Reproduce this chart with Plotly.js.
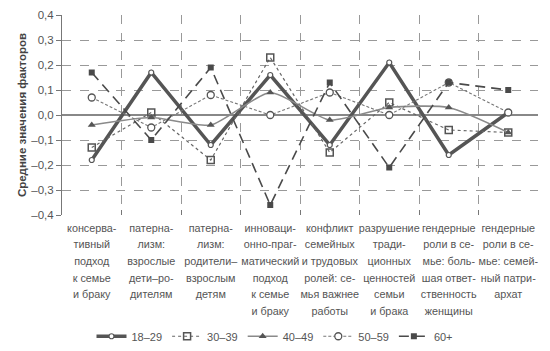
<!DOCTYPE html>
<html><head><meta charset="utf-8">
<script src="https://cdn.plot.ly/plotly-3.0.1.min.js"></script>
<style>html,body{margin:0;padding:0;background:#fff}#chart{width:550px;height:351px}</style>
</head><body><div id="chart"></div>
<script>
const categories = [
  "консерва-<br>тивный<br>подход<br>к семье<br>и браку",
  "патерна-<br>лизм:<br>взрослые<br>дети–ро-<br>дителям",
  "патерна-<br>лизм:<br>родители–<br>взрослым<br>детям",
  "инноваци-<br>онно-праг-<br>матический<br>подход<br>к семье<br>и браку",
  "конфликт<br>семейных<br>и трудовых<br>ролей: се-<br>мья важнее<br>работы",
  "разрушение<br>тради-<br>ционных<br>ценностей<br>семьи<br>и брака",
  "гендерные<br>роли в се-<br>мье: боль-<br>шая ответ-<br>ственность<br>женщины",
  "гендерные<br>роли в се-<br>мье: семей-<br>ный патри-<br>архат"
];
const s18_29 = [-0.18, 0.17, -0.12, 0.16, -0.12, 0.21, -0.16, 0.01];
const s30_39 = [-0.13, 0.01, -0.18, 0.23, -0.15, 0.05, -0.06, -0.07];
const s40_49 = [-0.04, -0.01, -0.04, 0.09, -0.02, 0.03, 0.03, -0.07];
const s50_59 = [0.07, -0.05, 0.08, 0.00, 0.09, 0.00, 0.13, 0.01];
const s60p   = [0.17, -0.10, 0.19, -0.36, 0.13, -0.21, 0.13, 0.10];
const tickVals = [0.4, 0.3, 0.2, 0.1, 0, -0.1, -0.2, -0.3, -0.4];
const tickText = ["0,4", "0,3", "0,2", "0,1", "0,0", "–0,1", "–0,2", "–0,3", "–0,4"];

const FONT = "Liberation Sans, Arial, sans-serif";
// small glyphs with the reference's generous line spacing
const xLabels = categories.map(c => '<span style="font-size:10.8px">' + c + '</span>');

const traces = [
  {name: "18–29", x: xLabels, y: s18_29, type: "scatter", mode: "lines+markers",
   line: {color: "#555", width: 3.5},
   marker: {symbol: "circle", size: 5, color: "#fff", line: {color: "#555", width: 1.2}}},
  {name: "30–39", x: xLabels, y: s30_39, type: "scatter", mode: "lines+markers",
   line: {color: "#666", width: 1.2, dash: "dot"},
   marker: {symbol: "square-open", size: 7, color: "#555", line: {width: 1.5}}},
  {name: "40–49", x: xLabels, y: s40_49, type: "scatter", mode: "lines+markers",
   line: {color: "#8a8a8a", width: 1.6, shape: "spline", smoothing: 0.6},
   marker: {symbol: "triangle-up", size: 7, color: "#555"}},
  {name: "50–59", x: xLabels, y: s50_59, type: "scatter", mode: "lines+markers",
   line: {color: "#777", width: 1.1, dash: "3px,2px"},
   marker: {symbol: "circle", size: 7, color: "#fff", line: {color: "#555", width: 1.3}}},
  {name: "60+", x: xLabels, y: s60p, type: "scatter", mode: "lines+markers",
   line: {color: "#4a4a4a", width: 1.6, dash: "10px,6px"},
   marker: {symbol: "square", size: 6, color: "#4a4a4a"}}
];
const layout = {
  width: 550, height: 351,
  margin: {l: 62, r: 12, t: 15, b: 136, autoexpand: false},
  paper_bgcolor: "#fff", plot_bgcolor: "#fff",
  font: {family: FONT, color: "#555", size: 11},
  showlegend: true,
  legend: {orientation: "h", x: 0.5, xref: "container", xanchor: "center",
           y: 0.042, yref: "container", yanchor: "middle",
           font: {size: 11, color: "#555"}, itemwidth: 30, tracegroupgap: 0},
  xaxis: {type: "category", tickson: "boundaries", ticks: "inside", ticklen: 5,
          tickcolor: "#777", showgrid: true, gridcolor: "#999", griddash: "dash",
          gridwidth: 1, showline: false, zeroline: false, tickangle: 0,
          ticklabelstandoff: 3,
          range: [-0.5, 7.5], tickfont: {size: 12.8, color: "#555", family: FONT},
          automargin: false},
  yaxis: {range: [-0.4, 0.4], tickvals: tickVals, ticktext: tickText,
          ticks: "outside", ticklen: 5, tickcolor: "#777",
          showline: true, linecolor: "#777", linewidth: 1,
          showgrid: true, gridcolor: "#999", griddash: "dash", gridwidth: 1,
          zeroline: true, zerolinecolor: "#888", zerolinewidth: 1.2,
          tickfont: {size: 11.5, color: "#555", family: FONT},
          title: {text: "Средние значения факторов", standoff: 2,
                  font: {size: 11.5, color: "#444", family: FONT, weight: "bold"}},
          automargin: false}
};
Plotly.newPlot("chart", traces, layout, {displayModeBar: false, staticPlot: true});
</script></body></html>
